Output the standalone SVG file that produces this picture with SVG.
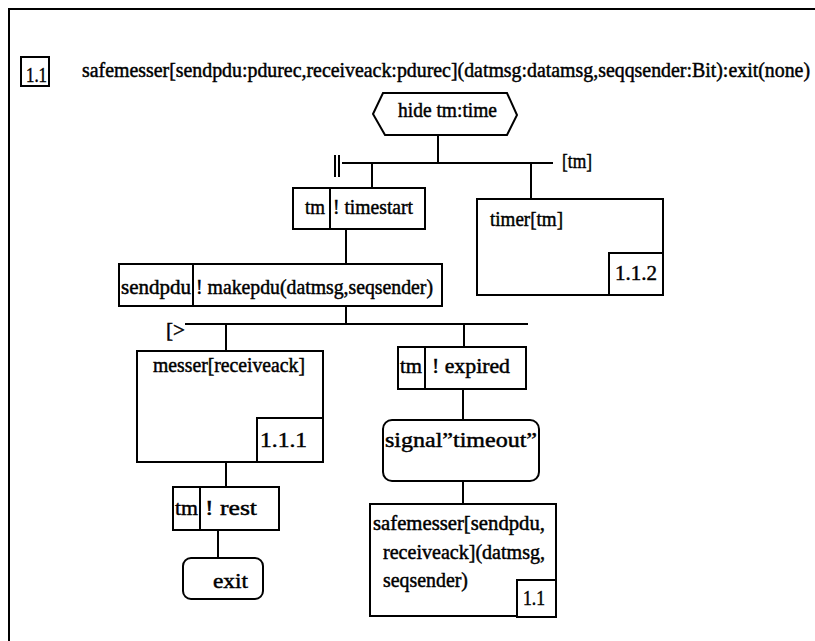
<svg xmlns="http://www.w3.org/2000/svg" width="815" height="641" viewBox="0 0 815 641">
<style>
.b{fill:#fff;stroke:#000;stroke-width:2}
.l{fill:none;stroke:#000;stroke-width:2}
</style>
<rect width="815" height="641" fill="#fff"/>
<g font-family="Liberation Serif, DejaVu Serif, serif" font-size="20" fill="#000" stroke="#000" stroke-width="0.45">
<g id="frame">
<path class="l" d="M9,641 V9 H815"/>
<rect class="b" x="21" y="57" width="28" height="29"/>
<text x="26" y="82" textLength="21" lengthAdjust="spacingAndGlyphs">1.1</text>
<text x="82" y="77" textLength="728" lengthAdjust="spacingAndGlyphs">safemesser[sendpdu:pdurec,receiveack:pdurec](datmsg:datamsg,seqqsender:Bit):exit(none)</text>
</g>
<g id="connectors">
<path class="l" d="M438,135 V163"/>
<path class="l" d="M342,163 H553"/>
<path class="l" d="M335,155 V177 M339,155 V177"/>
<path class="l" d="M372,163 V188"/>
<path class="l" d="M531,163 V199"/>
<path class="l" d="M346,229 V264"/>
<path class="l" d="M346,306 V324"/>
<path class="l" d="M185,324 H528"/>
<path class="l" d="M226,324 V351"/>
<path class="l" d="M464,324 V347"/>
<path class="l" d="M463,389 V420"/>
<path class="l" d="M463,481 V504"/>
<path class="l" d="M226,462 V487"/>
<path class="l" d="M218,530 V558"/>
<text x="562" y="168" textLength="30" lengthAdjust="spacingAndGlyphs">[tm]</text>
<text x="166" y="337" textLength="19" lengthAdjust="spacingAndGlyphs">[&gt;</text>
</g>
<g id="hide">
<polygon class="b" points="373,114 383,93 507,93 517,115 507,135 385,135"/>
<text x="398" y="117" textLength="99" lengthAdjust="spacingAndGlyphs">hide tm:time</text>
</g>
<g id="timestart">
<rect class="b" x="293" y="188" width="132" height="41"/>
<path class="l" d="M330,188 V229"/>
<text x="305" y="214" textLength="20" lengthAdjust="spacingAndGlyphs">tm</text>
<text x="333" y="214" textLength="80" lengthAdjust="spacingAndGlyphs">! timestart</text>
</g>
<g id="timer">
<rect class="b" x="477" y="199" width="186" height="96"/>
<rect class="b" x="609" y="253" width="54" height="42"/>
<text x="490" y="226" textLength="73" lengthAdjust="spacingAndGlyphs">timer[tm]</text>
<text x="615" y="280" textLength="42" lengthAdjust="spacingAndGlyphs">1.1.2</text>
</g>
<g id="makepdu">
<rect class="b" x="119" y="264" width="323" height="42"/>
<path class="l" d="M193,264 V306"/>
<text x="121" y="294" textLength="70" lengthAdjust="spacingAndGlyphs">sendpdu</text>
<text x="196" y="294" textLength="237" lengthAdjust="spacingAndGlyphs">! makepdu(datmsg,seqsender)</text>
</g>
<g id="messer">
<rect class="b" x="137" y="351" width="186" height="111"/>
<rect class="b" x="257" y="418" width="66" height="44"/>
<text x="153" y="372" textLength="152" lengthAdjust="spacingAndGlyphs">messer[receiveack]</text>
<text x="260" y="447" textLength="47" lengthAdjust="spacingAndGlyphs">1.1.1</text>
</g>
<g id="expired">
<rect class="b" x="398" y="347" width="128" height="42"/>
<path class="l" d="M425,347 V389"/>
<text x="400" y="373" textLength="22" lengthAdjust="spacingAndGlyphs">tm</text>
<text x="432" y="373" textLength="78" lengthAdjust="spacingAndGlyphs">! expired</text>
</g>
<g id="signal">
<rect class="b" x="383" y="420" width="156" height="61" rx="9"/>
<text x="385" y="447" textLength="152" lengthAdjust="spacingAndGlyphs">signal”timeout”</text>
</g>
<g id="rest">
<rect class="b" x="173" y="487" width="106" height="43"/>
<path class="l" d="M200,487 V530"/>
<text x="175" y="515" textLength="23" lengthAdjust="spacingAndGlyphs">tm</text>
<text x="205" y="515" textLength="52" lengthAdjust="spacingAndGlyphs">! rest</text>
</g>
<g id="exit">
<rect class="b" x="183" y="558" width="80" height="41" rx="8"/>
<text x="213" y="588" textLength="35" lengthAdjust="spacingAndGlyphs">exit</text>
</g>
<g id="safemesser">
<rect class="b" x="370" y="504" width="186" height="112"/>
<rect class="b" x="517" y="580" width="39" height="37" stroke-width="2.5"/>
<text x="373" y="530" textLength="172" lengthAdjust="spacingAndGlyphs">safemesser[sendpdu,</text>
<text x="383" y="559" textLength="162" lengthAdjust="spacingAndGlyphs">receiveack](datmsg,</text>
<text x="383" y="587" textLength="85" lengthAdjust="spacingAndGlyphs">seqsender)</text>
<text x="523" y="605" textLength="22" lengthAdjust="spacingAndGlyphs">1.1</text>
</g>
</g>
</svg>
